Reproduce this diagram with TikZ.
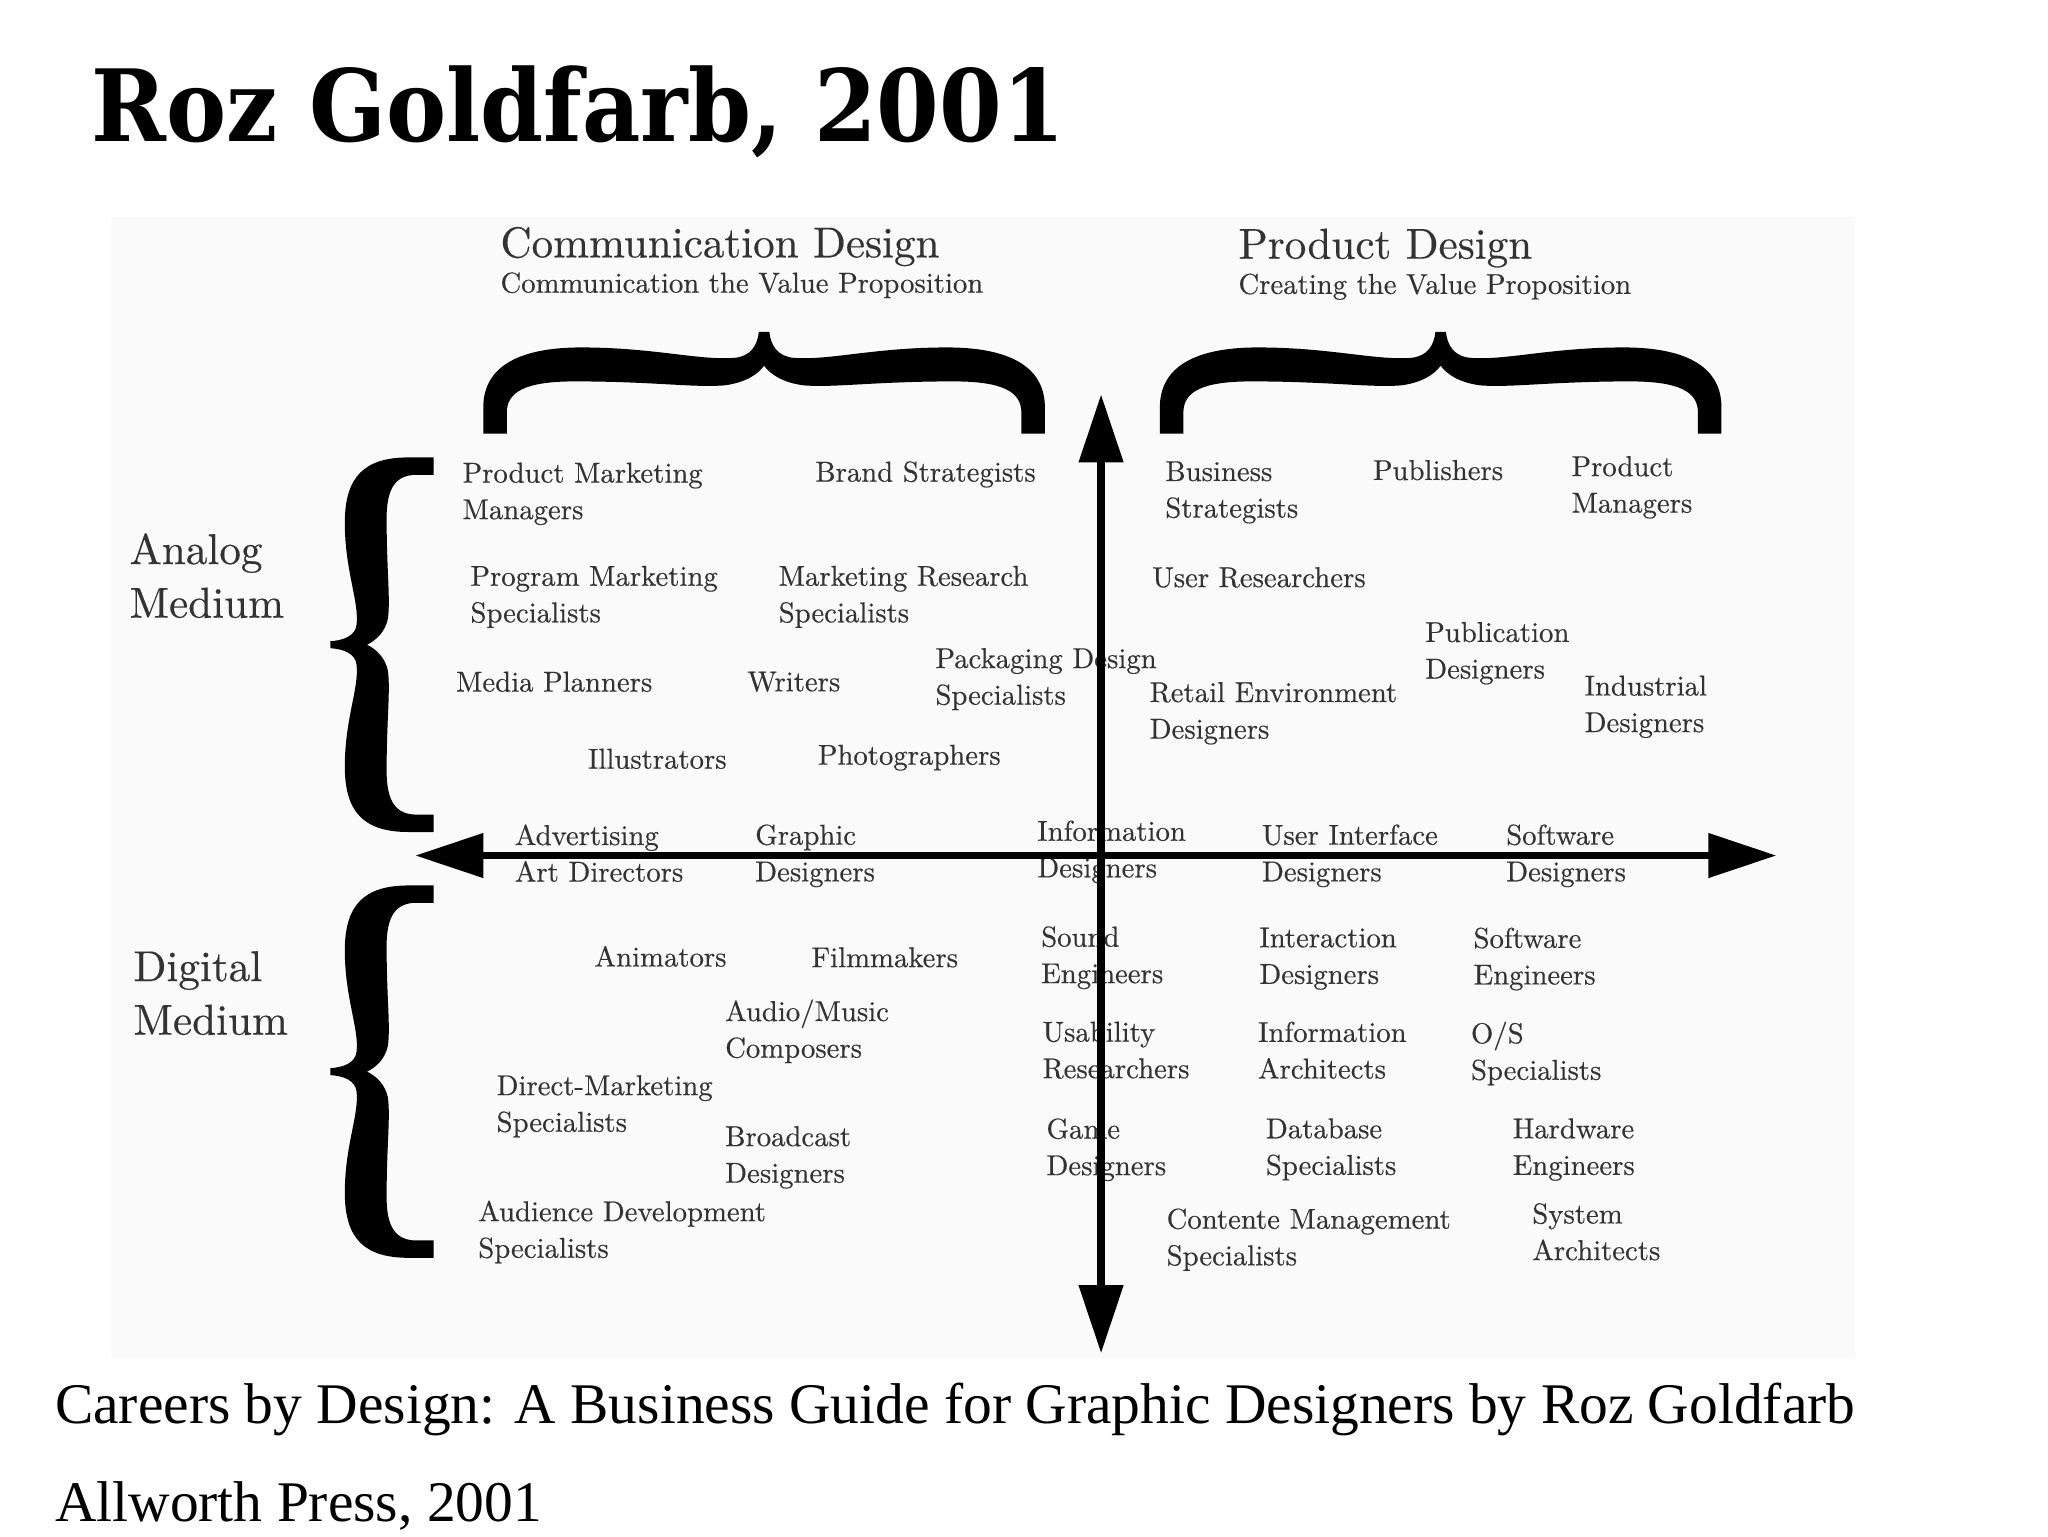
\documentclass[tikz,border=0pt]{standalone}
\usepackage{fontspec}
\usepackage{graphicx}
\usetikzlibrary{arrows.meta}
\newfontfamily\titlefont{DejaVu Serif}
\newfontfamily\capfont{Liberation Serif}
\newfontfamily\lmx{lmroman10-regular.otf}[FakeBold=0.4]
\tikzset{
  item/.style={anchor=north west, inner sep=0pt, align=left, text=black!80, font=\lmx\fontsize{22}{28}\selectfont},
  side/.style={anchor=north west, inner sep=0pt, align=left, text=black!80, font=\lmx\fontsize{33}{41}\selectfont},
  head/.style={anchor=base west, inner sep=0pt, text=black!80, font=\lmx\fontsize{33}{40}\selectfont},
  sub/.style={anchor=base west, inner sep=0pt, text=black!80, font=\lmx\fontsize{22}{28}\selectfont},
  captxt/.style={anchor=base west, inner sep=0pt, text=black, font=\capfont\fontsize{44}{50}\selectfont},
  axis/.style={line width=5.5pt, {Triangle[length=52pt,width=33pt]}-{Triangle[length=52pt,width=33pt]}},
  bracepic/.pic={
    \fill[black] (0,78) -- (0,58) .. controls (0,28) and (25,12) .. (75,12)
      .. controls (130,12) and (165,22) .. (192,20)
      .. controls (205,19) and (210,10) .. (211,0)
      -- (219,0)
      .. controls (220,10) and (225,19) .. (238,20)
      .. controls (265,22) and (300,12) .. (355,12)
      .. controls (405,12) and (430,28) .. (430,58)
      -- (430,78) -- (412,78) -- (412,62)
      .. controls (412,46) and (398,38) .. (360,38)
      .. controls (300,38) and (268,43) .. (245,41)
      .. controls (230,39) and (220,33) .. (215,26)
      .. controls (210,33) and (200,39) .. (185,41)
      .. controls (162,43) and (130,38) .. (70,38)
      .. controls (32,38) and (18,46) .. (18,62)
      -- (18,78) -- cycle;
  },
  vbracepic/.pic={
    \fill[black] (0,79) -- (0,60) .. controls (0,26) and (22,11) .. (75,11)
      .. controls (130,11) and (165,22) .. (192,20)
      .. controls (205,19) and (210,10) .. (211,0)
      -- (219,0)
      .. controls (220,10) and (225,19) .. (238,20)
      .. controls (265,22) and (300,11) .. (355,11)
      .. controls (408,11) and (430,26) .. (430,60)
      -- (430,79) -- (410,79) -- (410,66)
      .. controls (410,50) and (395,43) .. (360,43)
      .. controls (300,43) and (268,46) .. (245,44)
      .. controls (230,42) and (220,35) .. (215,28)
      .. controls (210,35) and (200,42) .. (185,44)
      .. controls (162,46) and (130,43) .. (70,43)
      .. controls (35,43) and (20,50) .. (20,66)
      -- (20,79) -- cycle;
  }
}
\begin{document}
\begin{tikzpicture}[x=1pt,y=-1pt]
\useasboundingbox (0,0) rectangle (1568,1176);
\fill[white] (0,0) rectangle (1568,1176);
\fill[black!2] (85,166) rectangle (1420,1040);

% title
\node[anchor=base west, inner sep=0pt] (title) at (70,108) {\resizebox{745pt}{58pt}{\titlefont\bfseries Roz Goldfarb, 2001}};

% headers
\node[head] (cd) at (383,197) {Communication Design};
\node[sub] (cdsub) at (383,224) {Communication the Value Proposition};
\node[head] (pd) at (948,198) {Product Design};
\node[sub] (pdsub) at (948,225) {Creating the Value Proposition};

% braces
\pic at (370,254) {bracepic};
\pic at (888,254) {bracepic};
\pic[rotate=90, xscale=0.667] at (253,637) {vbracepic};
\pic[rotate=90, xscale=0.663] at (253,963) {vbracepic};

% side labels
\node[side] (analog) at (99,408) {Analog\\Medium};
\node[side] (digital) at (102,728) {Digital\\Medium};

% upper left
\node[item] (pmm) at (354,354) {Product Marketing\\Managers};
\node[item] (bs) at (624,353) {Brand Strategists};
\node[item] (pgm) at (360,433) {Program Marketing\\Specialists};
\node[item] (mrs) at (596,433) {Marketing Research\\Specialists};
\node[item] (pds) at (716,496) {Packaging Design\\Specialists};
\node[item] (mp) at (349,514) {Media Planners};
\node[item] (wr) at (572,514) {Writers};
\node[item] (il) at (450,573) {Illustrators};
\node[item] (ph) at (626,570) {Photographers};
\node[item] (aad) at (394,631) {Advertising\\Art Directors};
\node[item] (gd) at (578,631) {Graphic\\Designers};
\node[item] (infd) at (794,628) {Information\\Designers};
% upper right
\node[item] (bst) at (892,353) {Business\\Strategists};
\node[item] (pub) at (1051,352) {Publishers};
\node[item] (pm) at (1203,349) {Product\\Managers};
\node[item] (ur) at (882,434) {User Researchers};
\node[item] (pubd) at (1091,476) {Publication\\Designers};
\node[item] (red) at (880,522) {Retail Environment\\Designers};
\node[item] (ind) at (1213,517) {Industrial\\Designers};
\node[item] (uid) at (966,631) {User Interface\\Designers};
\node[item] (swd) at (1153,631) {Software\\Designers};
% lower left
\node[item] (ani) at (455,724) {Animators};
\node[item] (fm) at (621,725) {Filmmakers};
\node[item] (amc) at (555,765) {Audio/Music\\Composers};
\node[item] (dms) at (380,823) {Direct-Marketing\\Specialists};
\node[item] (bd) at (555,862) {Broadcast\\Designers};
\node[item] (ads) at (366,919) {Audience Development\\Specialists};
% lower right
\node[item] (se) at (797,709) {Sound\\Engineers};
\node[item] (ixd) at (964,710) {Interaction\\Designers};
\node[item] (swe) at (1128,710) {Software\\Engineers};
\node[item] (usr) at (798,782) {Usability\\Researchers};
\node[item] (ia) at (963,782) {Information\\Architects};
\node[item] (os) at (1126,782) {O/S\\Specialists};
\node[item] (gmd) at (801,856) {Game\\Designers};
\node[item] (dbs) at (969,856) {Database\\Specialists};
\node[item] (hwe) at (1158,856) {Hardware\\Engineers};
\node[item] (cms) at (893,925) {Contente Management\\Specialists};
\node[item] (sa) at (1173,921) {System\\Architects};

% axes
\coordinate (vtop) at (843,302);
\coordinate (vbot) at (843,1036);
\coordinate (hleft) at (318,655);
\coordinate (hright) at (1360,655);
\draw[axis] (vtop) -- (vbot);
\draw[axis] (hleft) -- (hright);

% caption
\node[captxt] (cap1) at (42,1090) {Careers by Design: A Business Guide for Graphic Designers by Roz Goldfarb};
\node[captxt] (cap2) at (42,1165) {Allworth Press, 2001};
\end{tikzpicture}
\end{document}
